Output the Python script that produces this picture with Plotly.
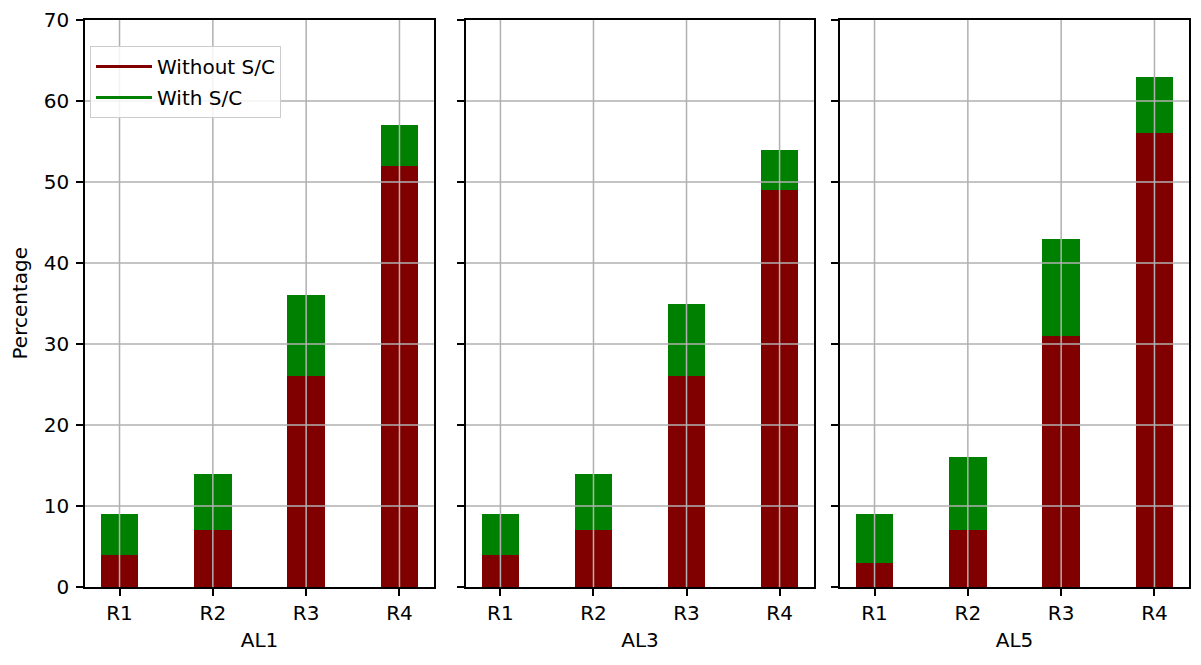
import plotly.graph_objects as go
from plotly.subplots import make_subplots

regions = ['R1', 'R2', 'R3', 'R4']
groups = ['AL1', 'AL3', 'AL5']

# percentage without S/C (bottom, maroon)
al1_without = [4, 7, 26, 52]
al3_without = [4, 7, 26, 49]
al5_without = [3, 7, 31, 56]

# percentage with S/C (total height, green)
al1_with = [9, 14, 36, 57]
al3_with = [9, 14, 35, 54]
al5_with = [9, 16, 43, 63]

y_ticks = [0, 10, 20, 30, 40, 50, 60, 70]

without_series = [al1_without, al3_without, al5_without]
with_series = [al1_with, al3_with, al5_with]

MAROON = '#800000'
GREEN = '#008000'
GRID = '#b0b0b0'
FONT = 'DejaVu Sans'
FS = 20

fig = make_subplots(rows=1, cols=3, shared_yaxes=True)

for i, group in enumerate(groups):
    col = i + 1
    fig.add_trace(go.Bar(x=regions, y=with_series[i], marker_color=GREEN,
                         marker_line_width=0, width=0.4, showlegend=False,
                         name='With S/C'), row=1, col=col)
    fig.add_trace(go.Bar(x=regions, y=without_series[i], marker_color=MAROON,
                         marker_line_width=0, width=0.4, showlegend=False,
                         name='Without S/C'), row=1, col=col)

# legend handles drawn as lines, like the original
fig.add_trace(go.Scatter(x=[None], y=[None], mode='lines', name='Without S/C',
                         legendgroup='a', line=dict(color=MAROON, width=3)), row=1, col=1)
fig.add_trace(go.Scatter(x=[None], y=[None], mode='lines', name='With S/C',
                         legendgroup='b', line=dict(color=GREEN, width=3)), row=1, col=1)

# plot area 1104 x 567 px
domains = [[0, 349 / 1104], [381 / 1104, 729 / 1104], [755 / 1104, 1]]

shapes = []
for i, group in enumerate(groups):
    suffix = '' if i == 0 else str(i + 1)
    fig.update_xaxes(
        domain=domains[i], range=[-0.37, 3.37], type='category',
        showgrid=False, showline=True, linecolor='black', linewidth=1.5, mirror=True,
        ticks='outside', ticklen=7, tickwidth=1.5, tickcolor='black',
        tickfont=dict(family=FONT, size=FS, color='black'),
        title=dict(text=group, font=dict(family=FONT, size=FS, color='black'), standoff=9),
        automargin=False, layer='above traces', row=1, col=i + 1)
    fig.update_yaxes(
        range=[0, 70], tickvals=y_ticks,
        showgrid=False, zeroline=False, showline=True, linecolor='black', linewidth=1.5,
        mirror=True, ticks='outside', ticklen=7, tickwidth=1.5, tickcolor='black',
        tickfont=dict(family=FONT, size=FS, color='black'), ticklabelstandoff=3,
        showticklabels=(i == 0), automargin=False, layer='above traces', row=1, col=i + 1)
    # gridlines over the bars, as in the matplotlib original
    for r in regions:
        shapes.append(dict(type='line', xref='x' + suffix, yref='y' + suffix + ' domain',
                           x0=r, x1=r, y0=0, y1=1, layer='above',
                           line=dict(color=GRID, width=1.5)))
    for t in y_ticks[1:-1]:
        shapes.append(dict(type='line', xref='x' + suffix + ' domain', yref='y' + suffix,
                           x0=0, x1=1, y0=t, y1=t, layer='above',
                           line=dict(color=GRID, width=1.5)))

# y axis title as a rotated annotation, so it can sit close to the page edge
fig.add_annotation(text='Percentage', textangle=-90, xref='paper', yref='paper',
                   x=-66 / 1104, y=0.5, xanchor='center', yanchor='middle', showarrow=False,
                   font=dict(family=FONT, size=FS, color='black'))

fig.update_layout(
    width=1185, height=649,
    barmode='overlay', bargap=0,
    plot_bgcolor='white', paper_bgcolor='white',
    margin=dict(l=77, r=4, t=12, b=70),
    shapes=shapes,
    font=dict(family=FONT, size=FS, color='black'),
    legend=dict(x=5 / 1104, y=1 - 26 / 567, xanchor='left', yanchor='top',
                bgcolor='rgba(255,255,255,0.85)', bordercolor='#cccccc', borderwidth=1,
                font=dict(family=FONT, size=FS, color='black'),
                traceorder='grouped', tracegroupgap=2, itemwidth=56),
)

fig.write_html('out.html')
